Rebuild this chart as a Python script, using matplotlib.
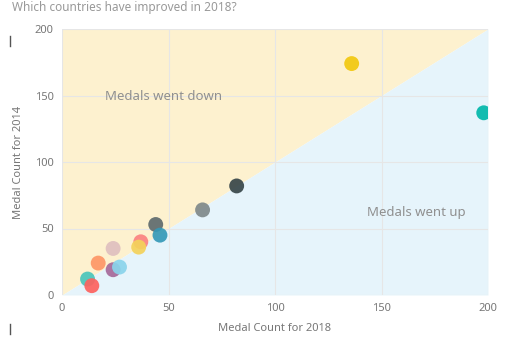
import numpy as np
import matplotlib
matplotlib.use("Agg")
import matplotlib.pyplot as plt

# Datos: medallas 2018 (x) y 2014 (y) por país
medals_2018 = [12, 14, 17, 24, 24, 27, 37, 36, 44, 46, 66, 82, 136, 198]
medals_2014 = [12, 7, 24, 35, 19, 21, 40, 36, 53, 45, 64, 82, 174, 137]
colors = ['#4AC5BB', '#FD625E', '#FE9666', '#DFBFBF', '#A66999', '#8AD4EB',
          '#FB8281', '#F4D25A', '#5F6B6D', '#3599B8', '#7F898A', '#374649',
          '#F2C80F', '#01B8AA']
ticks = [0, 50, 100, 150, 200]

plt.rcParams['font.family'] = ['Noto Sans', 'DejaVu Sans']

fig = plt.figure(figsize=(5.07, 3.37), dpi=100)
ax = fig.add_axes([62/507, 1-295/337, 426/507, 266/337])

# zonas de fondo
lim = [0, 200]
ax.fill_between(lim, lim, [200, 200], color='#FDF1CF', lw=0, zorder=0)
ax.fill_between(lim, [0, 0], lim, color='#E6F4FB', lw=0, zorder=0)

ax.scatter(medals_2018, medals_2014, s=115, c=colors, alpha=0.92, linewidths=0, zorder=3)

ax.text(20, 149, 'Medals went down', color='#909090', fontsize=9.5, ha='left', va='center')
ax.text(143, 62, 'Medals went up', color='#909090', fontsize=9.5, ha='left', va='center')

ax.set_xlim(0, 200)
ax.set_ylim(0, 200)
ax.set_xticks(ticks)
ax.set_yticks(ticks)
ax.grid(color='#E6E6E6', linewidth=0.8, zorder=1)
ax.set_axisbelow(True)
for s in ax.spines.values():
    s.set_visible(False)
ax.tick_params(length=0, labelsize=8, labelcolor='#777777', pad=6)
ax.set_xlabel('Medal Count for 2018', fontsize=8, color='#777777', labelpad=6)
ax.set_ylabel('Medal Count for 2014', fontsize=8, color='#777777', labelpad=8)

fig.text(12/507, 1-8/337, 'Which countries have improved in 2018?', fontsize=8.5,
         color='#999999', ha='left', va='center')

# pequeñas marcas a la izquierda
fig.add_artist(plt.Line2D([10/507, 10/507], [1-36/337, 1-46/337], color='#555555', lw=1))
fig.add_artist(plt.Line2D([10/507, 10/507], [1-324/337, 1-334/337], color='#555555', lw=1))

plt.savefig('out.png', dpi=100)
